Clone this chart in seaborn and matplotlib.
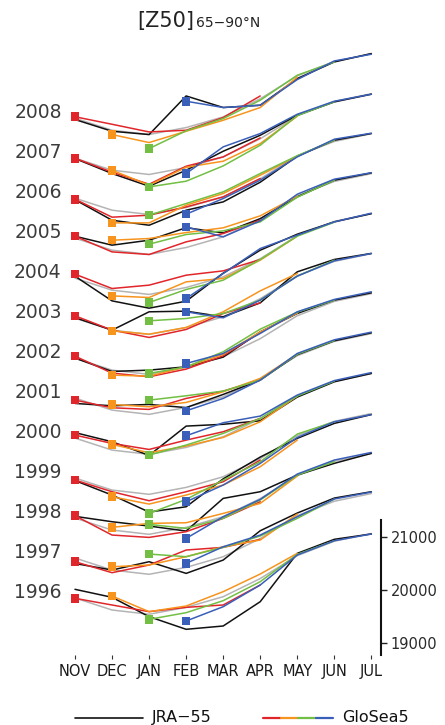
import matplotlib
matplotlib.use("Agg")
import matplotlib.pyplot as plt
from matplotlib.lines import Line2D
import pandas as pd
import seaborn as sns

# ---------------------------------------------------------------- data
months = ["NOV", "DEC", "JAN", "FEB", "MAR", "APR", "MAY", "JUN", "JUL"]
years = list(range(1996, 2009))
year_offset = 750.0          # vertical spacing between stacked years (m)

# polar-cap Z50 climatology (m), NOV..JUL
climatology = [19850, 19625, 19545, 19675, 19875, 20215, 20645, 20915, 21060]

# JRA-55 reanalysis, NOV..JUL, one row per year 1996..2008
jra55 = [
    [20013, 19863, 19500, 19263, 19325, 19781, 20688, 20951, 21051],
    [19747, 19625, 19781, 19562, 19812, 20362, 20694, 20975, 21094],
    [19882, 19781, 19700, 19606, 20219, 20344, 20657, 20876, 21064],
    [19803, 19531, 19212, 19312, 19835, 20244, 20595, 20876, 21041],
    [19953, 19781, 19525, 20075, 20109, 20175, 20619, 20906, 21063],
    [19750, 19706, 19731, 19672, 19919, 20188, 20666, 20925, 21075],
    [19850, 19600, 19625, 19687, 19869, 20343, 20688, 20938, 21075],
    [19859, 19625, 19969, 19981, 19875, 20137, 20719, 20951, 21064],
    [19887, 19424, 19287, 19418, 19944, 20375, 20675, 20906, 21060],
    [19887, 19719, 19812, 20047, 19949, 20216, 20625, 20938, 21075],
    [19822, 19437, 19343, 19625, 19781, 20150, 20638, 20938, 21064],
    [19844, 19563, 19325, 19625, 19981, 20281, 20657, 20906, 21051],
    [19826, 19606, 19544, 20268, 20051, 20094, 20595, 20906, 21064],
]

# GloSea5 ensemble means, six months from each start date
gs_nov = [  # NOV..APR
    [19844, 19719, 19594, 19675, 19719, 20094],
    [19781, 19575, 19719, 20000, 20050, 20200],
    [19894, 19531, 19487, 19594, 19844, 20156],
    [19812, 19594, 19425, 19594, 19781, 20188],
    [19906, 19750, 19637, 19812, 19969, 20219],
    [19812, 19669, 19638, 19844, 19981, 20188],
    [19887, 19569, 19500, 19644, 19894, 20331],
    [19894, 19625, 19488, 19638, 19937, 20137],
    [19925, 19656, 19719, 19906, 19987, 20200],
    [19887, 19593, 19544, 19781, 19937, 20188],
    [19831, 19494, 19531, 19687, 19875, 20219],
    [19850, 19587, 19362, 19700, 19875, 20231],
    [19878, 19737, 19593, 19625, 19863, 20268],
]
gs_dec = [  # DEC..MAY
    [19887, 19594, 19700, 19969, 20300, 20688],
    [19687, 19719, 19875, 20062, 20188, 20675],
    [19675, 19750, 19762, 19937, 20125, 20638],
    [19500, 19362, 19531, 19719, 20063, 20563],
    [19731, 19575, 19700, 19862, 20156, 20638],
    [19731, 19687, 19769, 19969, 20219, 20675],
    [19531, 19512, 19687, 19919, 20343, 20694],
    [19612, 19550, 19675, 19969, 20362, 20688],
    [19518, 19487, 19781, 19844, 20188, 20638],
    [19812, 19844, 19956, 20044, 20269, 20638],
    [19387, 19387, 19719, 19938, 20281, 20638],
    [19625, 19344, 19681, 19794, 20125, 20638],
    [19544, 19394, 19606, 19812, 20051, 20619],
]
gs_jan = [  # JAN..JUN
    [19450, 19575, 19800, 20156, 20669, 20925],
    [19925, 19875, 20050, 20263, 20594, 20957],
    [19731, 19656, 19844, 20188, 20657, 20906],
    [19187, 19450, 19812, 20156, 20675, 20906],
    [19531, 19719, 19938, 20219, 20638, 20919],
    [19812, 19894, 19981, 20188, 20675, 20929],
    [19563, 19687, 19969, 20394, 20713, 20938],
    [19800, 19844, 19937, 20188, 20638, 20938],
    [19394, 19637, 19812, 20200, 20638, 20900],
    [19737, 19919, 19987, 20156, 20619, 20938],
    [19531, 19750, 19969, 20313, 20647, 20938],
    [19312, 19419, 19706, 20094, 20650, 20910],
    [19281, 19615, 19844, 20188, 20657, 20906],
]
gs_feb = [  # FEB..JUL
    [19419, 19687, 20094, 20657, 20925, 21051],
    [19750, 20062, 20281, 20625, 20957, 21088],
    [19469, 19875, 20200, 20675, 20938, 21081],
    [19406, 19719, 20125, 20613, 20906, 21041],
    [19894, 20138, 20263, 20657, 20929, 21079],
    [19612, 19844, 20188, 20688, 20944, 21088],
    [19750, 19937, 20313, 20719, 20951, 21094],
    [19969, 19856, 20188, 20638, 20925, 21064],
    [19469, 19937, 20406, 20657, 20906, 21069],
    [20063, 19875, 20175, 20675, 20957, 21078],
    [19550, 19844, 20188, 20625, 20957, 21069],
    [19563, 20063, 20313, 20675, 20919, 21051],
    [20169, 20051, 20094, 20576, 20925, 21051],
]

# ---------------------------------------------------------------- tidy table
rows = []


def add_series(name, start, table):
    for k, (yr, vals) in enumerate(zip(years, table)):
        for j, v in enumerate(vals):
            rows.append({"series": name, "year": yr, "month": start + j,
                         "z": v + k * year_offset})


add_series("clim", 0, [climatology] * len(years))
add_series("JRA-55", 0, jra55)
add_series("Nov", 0, gs_nov)
add_series("Dec", 1, gs_dec)
add_series("Jan", 2, gs_jan)
add_series("Feb", 3, gs_feb)
df = pd.DataFrame(rows)

colors = {"clim": "#b4b4b4", "JRA-55": "#111111", "Nov": "#e0262b",
          "Dec": "#f7941e", "Jan": "#72bf44", "Feb": "#3a5fb8"}
forecasts = ["Nov", "Dec", "Jan", "Feb"]

# ---------------------------------------------------------------- figure
sns.set_theme(style="white")
plt.rcParams["font.family"] = ["DejaVu Sans"]

W, H = 445, 725
fig = plt.figure(figsize=(W / 100, H / 100), dpi=100)
ax = fig.add_axes([70 / W, 70 / H, 311 / W, 610 / H])

for name, z in [("clim", 1), ("JRA-55", 2), ("Nov", 3),
                ("Dec", 3), ("Jan", 3), ("Feb", 3)]:
    sns.lineplot(data=df[df.series == name], x="month", y="z", units="year",
                 estimator=None, sort=False, color=colors[name], lw=1.1,
                 legend=False, ax=ax, zorder=z)

starts = (df[df.series.isin(forecasts)]
          .sort_values("month").groupby(["series", "year"], as_index=False).first())
sns.scatterplot(data=starts, x="month", y="z", hue="series", palette=colors,
                marker="s", s=38, linewidth=0, legend=False, ax=ax, zorder=5)

ax.set_xlim(-0.135, 8.26)
ax.set_ylim(18781, 30224)
ax.set_xlabel("")
ax.set_ylabel("")
ax.set_xticks(range(len(months)))
ax.set_xticklabels(months, fontsize=10.5, color="#1a1a1a",
                   family=["Liberation Sans Narrow", "DejaVu Sans"])
ax.set_yticks([20000 + k * year_offset for k in range(len(years))])
ax.set_yticklabels([str(y) for y in years], fontsize=13.5, color="#3c3c3c")
ax.tick_params(axis="y", length=0, pad=6)
ax.tick_params(axis="x", direction="out", length=3, width=0.8,
               color="#333333", pad=3.5, bottom=True)
for s in ax.spines.values():
    s.set_visible(False)
ax.grid(False)

# value scale for the bottom year on the right
ax2 = ax.twinx()
ax2.set_ylim(ax.get_ylim())
ax2.set_yticks([19000, 20000, 21000])
ax2.set_yticklabels(["19000", "20000", "21000"], fontsize=10.5,
                    color="#2a2a2a")
ax2.tick_params(axis="y", direction="out", length=4, width=1.0,
                color="#222222", pad=3)
for s in ["top", "left", "bottom"]:
    ax2.spines[s].set_visible(False)
ax2.spines["right"].set_bounds(18781, 21313)
ax2.spines["right"].set_linewidth(1.5)
ax2.spines["right"].set_color("#111111")
ax2.grid(False)

# title: [Z50] with small latitude band
fig.text(194 / W, 1 - 27 / H, "[Z50]", ha="right", va="baseline",
         fontsize=15, color="#222222")
fig.text(196 / W, 1 - 27 / H, "65\u221290\u00b0N", ha="left", va="baseline",
         fontsize=10, color="#222222")

# legend row
ly = 1 - 717.7 / H
fig.add_artist(Line2D([75 / W, 143 / W], [ly, ly], color="#111111", lw=1.2,
                      transform=fig.transFigure))
fig.text(152 / W, ly, "JRA\u221255", ha="left", va="center", fontsize=11.5,
         color="#111111")
seg = [263, 280.5, 298, 315.5, 333]
for i, name in enumerate(forecasts):
    fig.add_artist(Line2D([seg[i] / W, seg[i + 1] / W], [ly, ly],
                          color=colors[name], lw=1.6,
                          transform=fig.transFigure))
fig.text(342 / W, ly, "GloSea5", ha="left", va="center", fontsize=11.5,
         color="#111111")

fig.savefig("out.png", dpi=100)
